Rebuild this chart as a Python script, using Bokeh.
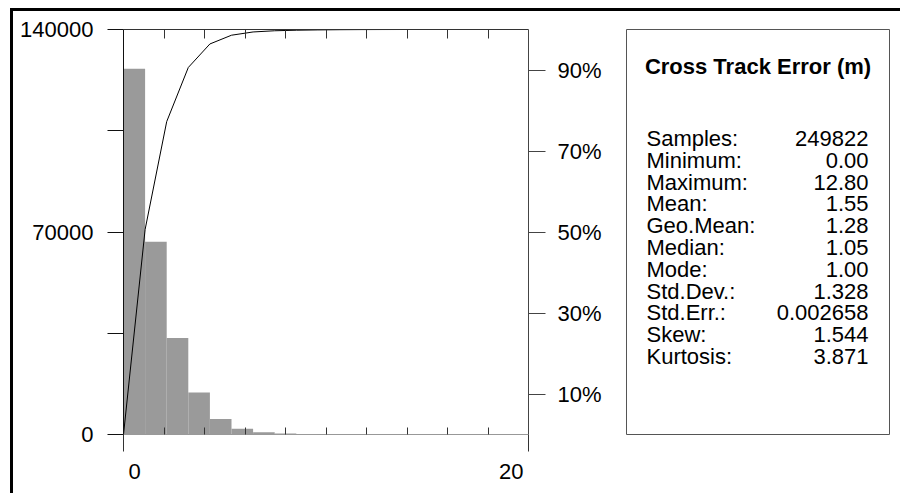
from bokeh.plotting import figure
from bokeh.layouts import row, column
from bokeh.models import (Range1d, LinearAxis, FixedTicker, Label, Span, ColumnDataSource,
                          BasicTickFormatter)
from bokeh.embed import file_html
from bokeh.resources import INLINE

# Histogram of cross track error (m): equal-width bins starting at 0
bin_width = 12.8 / 12
counts = [126400, 66600, 33400, 14500, 5400, 2000, 750, 320, 200, 120, 70, 35, 27]

# Axis ticks
count_ticks = [0, 70000, 140000]
count_minor = [35000, 105000]
pct_ticks = [10, 30, 50, 70, 90]
x_major = [0, 20]
x_minor = [2, 4, 6, 8, 10, 12, 14, 16, 18]

# Summary statistics
stat_title = "Cross Track Error (m)"
stat_names = ["Samples:", "Minimum:", "Maximum:", "Mean:", "Geo.Mean:", "Median:",
              "Mode:", "Std.Dev.:", "Std.Err.:", "Skew:", "Kurtosis:"]
stat_values = ["249822", "0.00", "12.80", "1.55", "1.28", "1.05", "1.00",
               "1.328", "0.002658", "1.544", "3.871"]

FONT = "Liberation Sans"
FS = "22px"

# page geometry (pixels)
W, H = 900, 493
SPLIT = 610                      # histogram panel | statistics panel
FL, FR, FT, FB = 123, 528, 29, 434
BL, BR = 626, 889                # statistics box edges
HIST_H = 460                     # histogram panel height; x labels sit below it
LIFT = 7                         # baseline correction for text placement

lefts = [i * bin_width for i in range(len(counts))]
rights = [(i + 1) * bin_width for i in range(len(counts))]
total = sum(counts)
edges = [0.0] + rights
cum_pct = [0.0]
running = 0
for c in counts:
    running += c
    cum_pct.append(running / total * 100.0)

# ---------------- histogram panel ----------------
p = figure(width=SPLIT, height=HIST_H, x_range=Range1d(0, 20), y_range=Range1d(0, 140000),
           output_backend="svg", toolbar_location=None,
           min_border_left=FL, min_border_right=SPLIT - FR,
           min_border_top=FT, min_border_bottom=HIST_H - FB)
p.extra_y_ranges = {"pct": Range1d(0, 100)}
p.xgrid.visible = False
p.ygrid.visible = False
p.outline_line_color = None
p.background_fill_color = "white"
p.border_fill_color = None


def style_axis(ax, color):
    ax.axis_line_color = color
    ax.major_tick_line_color = color
    ax.minor_tick_line_color = color
    ax.major_label_text_font = FONT
    ax.major_label_text_font_size = FS
    ax.major_label_text_color = "black"


# left count axis
ya = p.left[0]
style_axis(ya, "#111111")
ya.ticker = FixedTicker(ticks=count_ticks, minor_ticks=count_minor)
ya.formatter = BasicTickFormatter(use_scientific=False)
ya.major_tick_out = 16
ya.major_tick_in = 0
ya.minor_tick_out = 16
ya.minor_tick_in = 0
ya.major_label_standoff = 14

# bottom axis: outward ticks at the ends, inward ticks between (labels set below)
xa = p.below[0]
style_axis(xa, "#333333")
xa.axis_line_color = None
xa.ticker = FixedTicker(ticks=x_major, minor_ticks=x_minor)
xa.major_label_text_color = None
xa.major_tick_out = 17
xa.major_tick_in = 0
xa.minor_tick_in = 7
xa.minor_tick_out = 0

# right cumulative percent axis
ra = LinearAxis(y_range_name="pct")
style_axis(ra, "#444444")
ra.ticker = FixedTicker(ticks=pct_ticks, minor_ticks=[])
ra.major_label_overrides = {v: f"{v}%" for v in pct_ticks}
ra.major_tick_out = 17
ra.major_tick_in = 0
ra.minor_tick_out = 0
ra.minor_tick_in = 0
ra.major_label_standoff = 12
p.add_layout(ra, "right")

# top axis: inward ticks only
ta = LinearAxis()
style_axis(ta, "#333333")
ta.ticker = FixedTicker(ticks=[], minor_ticks=x_minor)
ta.major_tick_in = 0
ta.major_tick_out = 0
ta.minor_tick_in = 9
ta.minor_tick_out = 0
p.add_layout(ta, "above")

# baseline sits beneath the bars
p.add_layout(Span(location=0, dimension="width", line_color="#333333",
                  line_width=1, level="underlay"))

src = ColumnDataSource(dict(left=lefts, right=rights, top=counts))
p.quad(left="left", right="right", top="top", bottom=0, source=src,
       fill_color="#9a9a9a", line_color=None)
p.line(edges, cum_pct, y_range_name="pct", line_color="black", line_width=1)

# ---------------- x tick labels strip (shares the histogram x scale) ----------------
xl = figure(width=SPLIT, height=H - HIST_H, x_range=p.x_range, y_range=Range1d(H, HIST_H),
            output_backend="svg", toolbar_location=None,
            x_axis_type=None, y_axis_type=None,
            min_border_left=FL, min_border_right=SPLIT - FR,
            min_border_top=0, min_border_bottom=0)
xl.xgrid.visible = False
xl.ygrid.visible = False
xl.outline_line_color = None
xl.background_fill_color = None
xl.border_fill_color = None
xl.add_layout(Label(x=x_major[0], y=478 - LIFT, x_offset=5, text=str(x_major[0]),
                    text_align="left", text_baseline="alphabetic",
                    text_font=FONT, text_font_size=FS, text_color="black"))
xl.add_layout(Label(x=x_major[1], y=478 - LIFT, x_offset=-5, text=str(x_major[1]),
                    text_align="right", text_baseline="alphabetic",
                    text_font=FONT, text_font_size=FS, text_color="black"))

# ---------------- statistics panel ----------------
s = figure(width=W - SPLIT, height=H, x_range=Range1d(BL, BR), y_range=Range1d(FB, FT),
           output_backend="svg", toolbar_location=None,
           x_axis_type=None, y_axis_type=None,
           min_border_left=BL - SPLIT, min_border_right=W - BR,
           min_border_top=FT, min_border_bottom=H - FB)
s.xgrid.visible = False
s.ygrid.visible = False
s.outline_line_color = "#555555"
s.outline_line_width = 1
s.background_fill_color = "white"
s.border_fill_color = None

s.add_layout(Label(x=(BL + BR) / 2, y=72.5 - LIFT, text=stat_title,
                   text_align="center", text_baseline="alphabetic",
                   text_font=FONT, text_font_size="22px", text_font_style="bold",
                   text_color="black"))
for i, (name, val) in enumerate(zip(stat_names, stat_values)):
    base = 145 + i * 21.8 - LIFT
    s.add_layout(Label(x=BL + 20, y=base, text=name, text_align="left",
                       text_baseline="alphabetic", text_font=FONT,
                       text_font_size=FS, text_color="black"))
    s.add_layout(Label(x=BR - 21, y=base, text=val, text_align="right",
                       text_baseline="alphabetic", text_font=FONT,
                       text_font_size=FS, text_color="black"))

# outer frame: black rule along the top and left edges
layout = row(column(p, xl), s)
layout.styles = {"box-shadow": "inset 10px 8px 0 0 white, inset 13px 11px 0 0 black",
                 "background-color": "white"}

open("out.html", "w").write(file_html(layout, INLINE))
